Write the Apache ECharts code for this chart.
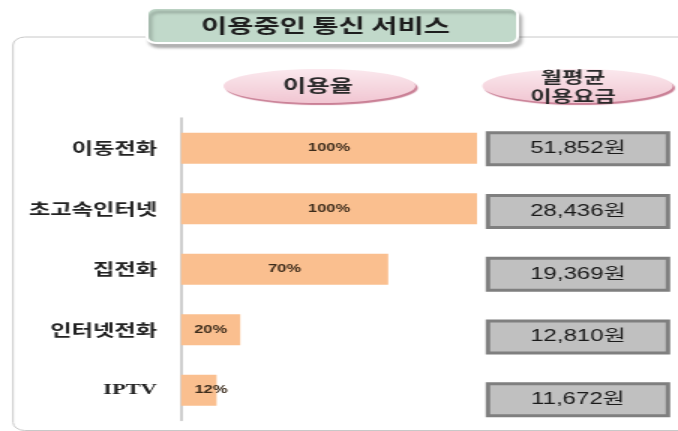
<!DOCTYPE html>
<html>
<head>
<meta charset="utf-8">
<script src="https://cdn.jsdelivr.net/npm/echarts@6/dist/echarts.min.js"></script>
<style>
  html, body { margin: 0; padding: 0; background: #fff; overflow: hidden; }
  /* the source picture is stretched sideways, so draw narrow and widen */
  #main { width: 452px; height: 431px; transform: scaleX(1.5); transform-origin: 0 0; }
</style>
</head>
<body>
<div id="main"></div>
<script>
const categories = ["이동전화", "초고속인터넷", "집전화", "인터넷전화", "IPTV"];
const rates = [100, 100, 70, 20, 12];
const prices = [51852, 28436, 19369, 12810, 11672];

const title = "이용중인 통신 서비스";
const rateHeader = "이용율";
const priceHeader = "월평균\n이용요금";

const chart = echarts.init(document.getElementById("main"));

const korean = "'Noto Sans CJK KR', 'Noto Sans', sans-serif";

const pink = () =>
  new echarts.graphic.LinearGradient(0, 0, 0, 1, [
    { offset: 0, color: "#fbe9ee" },
    { offset: 1, color: "#f1c6d2" },
  ]);

const options = {
  animation: false,
  graphic: [
    {
      type: "rect",
      z: 0,
      shape: { x: 8.7, y: 37, width: 470, height: 393.5, r: 8 },
      style: { fill: "none", stroke: "#c8c8c8", lineWidth: 1 },
    },
    {
      type: "rect",
      z: 5,
      shape: { x: 98, y: 8, width: 247, height: 35, r: 6 },
      style: {
        fill: "#c1d9ca",
        stroke: "#ffffff",
        lineWidth: 2,
        shadowColor: "rgba(0,0,0,0.28)",
        shadowBlur: 3,
        shadowOffsetX: 2,
        shadowOffsetY: 4,
      },
    },
    {
      type: "text",
      z: 6,
      x: 217,
      y: 26,
      style: {
        text: title,
        fill: "#1e1e1e",
        font: "bold 19px " + korean,
        align: "center",
        verticalAlign: "middle",
      },
    },
    {
      type: "ellipse",
      z: 5,
      shape: { cx: 213, cy: 86, rx: 64, ry: 17 },
      style: {
        fill: pink(),
        shadowColor: "#c97f95",
        shadowBlur: 1,
        shadowOffsetX: 1.5,
        shadowOffsetY: 2,
      },
    },
    {
      type: "text",
      z: 6,
      x: 212,
      y: 86,
      style: {
        text: rateHeader,
        fill: "#2a2a2a",
        font: "bold 17px " + korean,
        align: "center",
        verticalAlign: "middle",
      },
    },
    {
      type: "ellipse",
      z: 5,
      shape: { cx: 385, cy: 86, rx: 63.5, ry: 17 },
      style: {
        fill: pink(),
        shadowColor: "#c97f95",
        shadowBlur: 1,
        shadowOffsetX: 1.5,
        shadowOffsetY: 2,
      },
    },
    {
      type: "text",
      z: 6,
      x: 382,
      y: 87,
      style: {
        text: priceHeader,
        fill: "#2a2a2a",
        font: "bold 15.5px " + korean,
        lineHeight: 19,
        align: "center",
        verticalAlign: "middle",
      },
    },
  ],
  grid: [
    { left: 120.7, top: 118, width: 197.3, height: 302.5 },
    { left: 325.3, top: 117.3, width: 120, height: 322.5 },
  ],
  xAxis: [
    { type: "value", gridIndex: 0, min: 0, max: 100, show: false },
    { type: "value", gridIndex: 1, min: 0, max: 1, show: false },
  ],
  yAxis: [
    {
      type: "category",
      gridIndex: 0,
      inverse: true,
      data: categories.map((c) =>
        c === "IPTV"
          ? { value: c, textStyle: { fontFamily: "'Liberation Serif', serif", fontSize: 15, fontWeight: "bold" } }
          : c
      ),
      axisLine: { show: true, lineStyle: { color: "#bfbfbf", width: 1.5 } },
      axisTick: { show: false },
      axisLabel: {
        margin: 16,
        color: "#222",
        fontSize: 15.5,
        fontWeight: "bold",
        fontFamily: korean,
      },
    },
    {
      type: "category",
      gridIndex: 1,
      inverse: true,
      data: categories,
      show: false,
    },
  ],
  series: [
    {
      type: "bar",
      xAxisIndex: 0,
      yAxisIndex: 0,
      barWidth: 31,
      itemStyle: { color: "#fabf8f" },
      label: {
        show: true,
        position: "inside",
        formatter: "{c}%",
        color: "#3b2b1b",
        fontSize: 11,
        fontWeight: "bold",
        fontFamily: "'Liberation Sans', Arial, sans-serif",
      },
      data: rates.map((v) =>
        v < 15 ? { value: v, label: { position: "insideLeft", distance: 9 } } : v
      ),
    },
    {
      type: "custom",
      xAxisIndex: 1,
      yAxisIndex: 1,
      data: prices.map((p, i) => [i, p]),
      renderItem: function (params, api) {
        const idx = api.value(0);
        const price = api.value(1);
        const center = api.coord([0, idx]);
        const band = api.size([0, 1])[1];
        const h = band * 0.51;
        const cs = params.coordSys;
        return {
          type: "rect",
          shape: { x: cs.x, y: center[1] - h / 2, width: cs.width, height: h },
          style: { fill: "#c0c0c0", stroke: "#7f7f7f", lineWidth: 3 },
          textContent: {
            style: {
              text: price.toLocaleString("en-US") + "원",
              fill: "#1a1a1a",
              fontSize: 16,
              fontFamily: "'Liberation Sans', 'Noto Sans CJK KR', sans-serif",
            },
          },
          textConfig: { position: "inside" },
        };
      },
    },
  ],
};

chart.setOption(options);
</script>
</body>
</html>
